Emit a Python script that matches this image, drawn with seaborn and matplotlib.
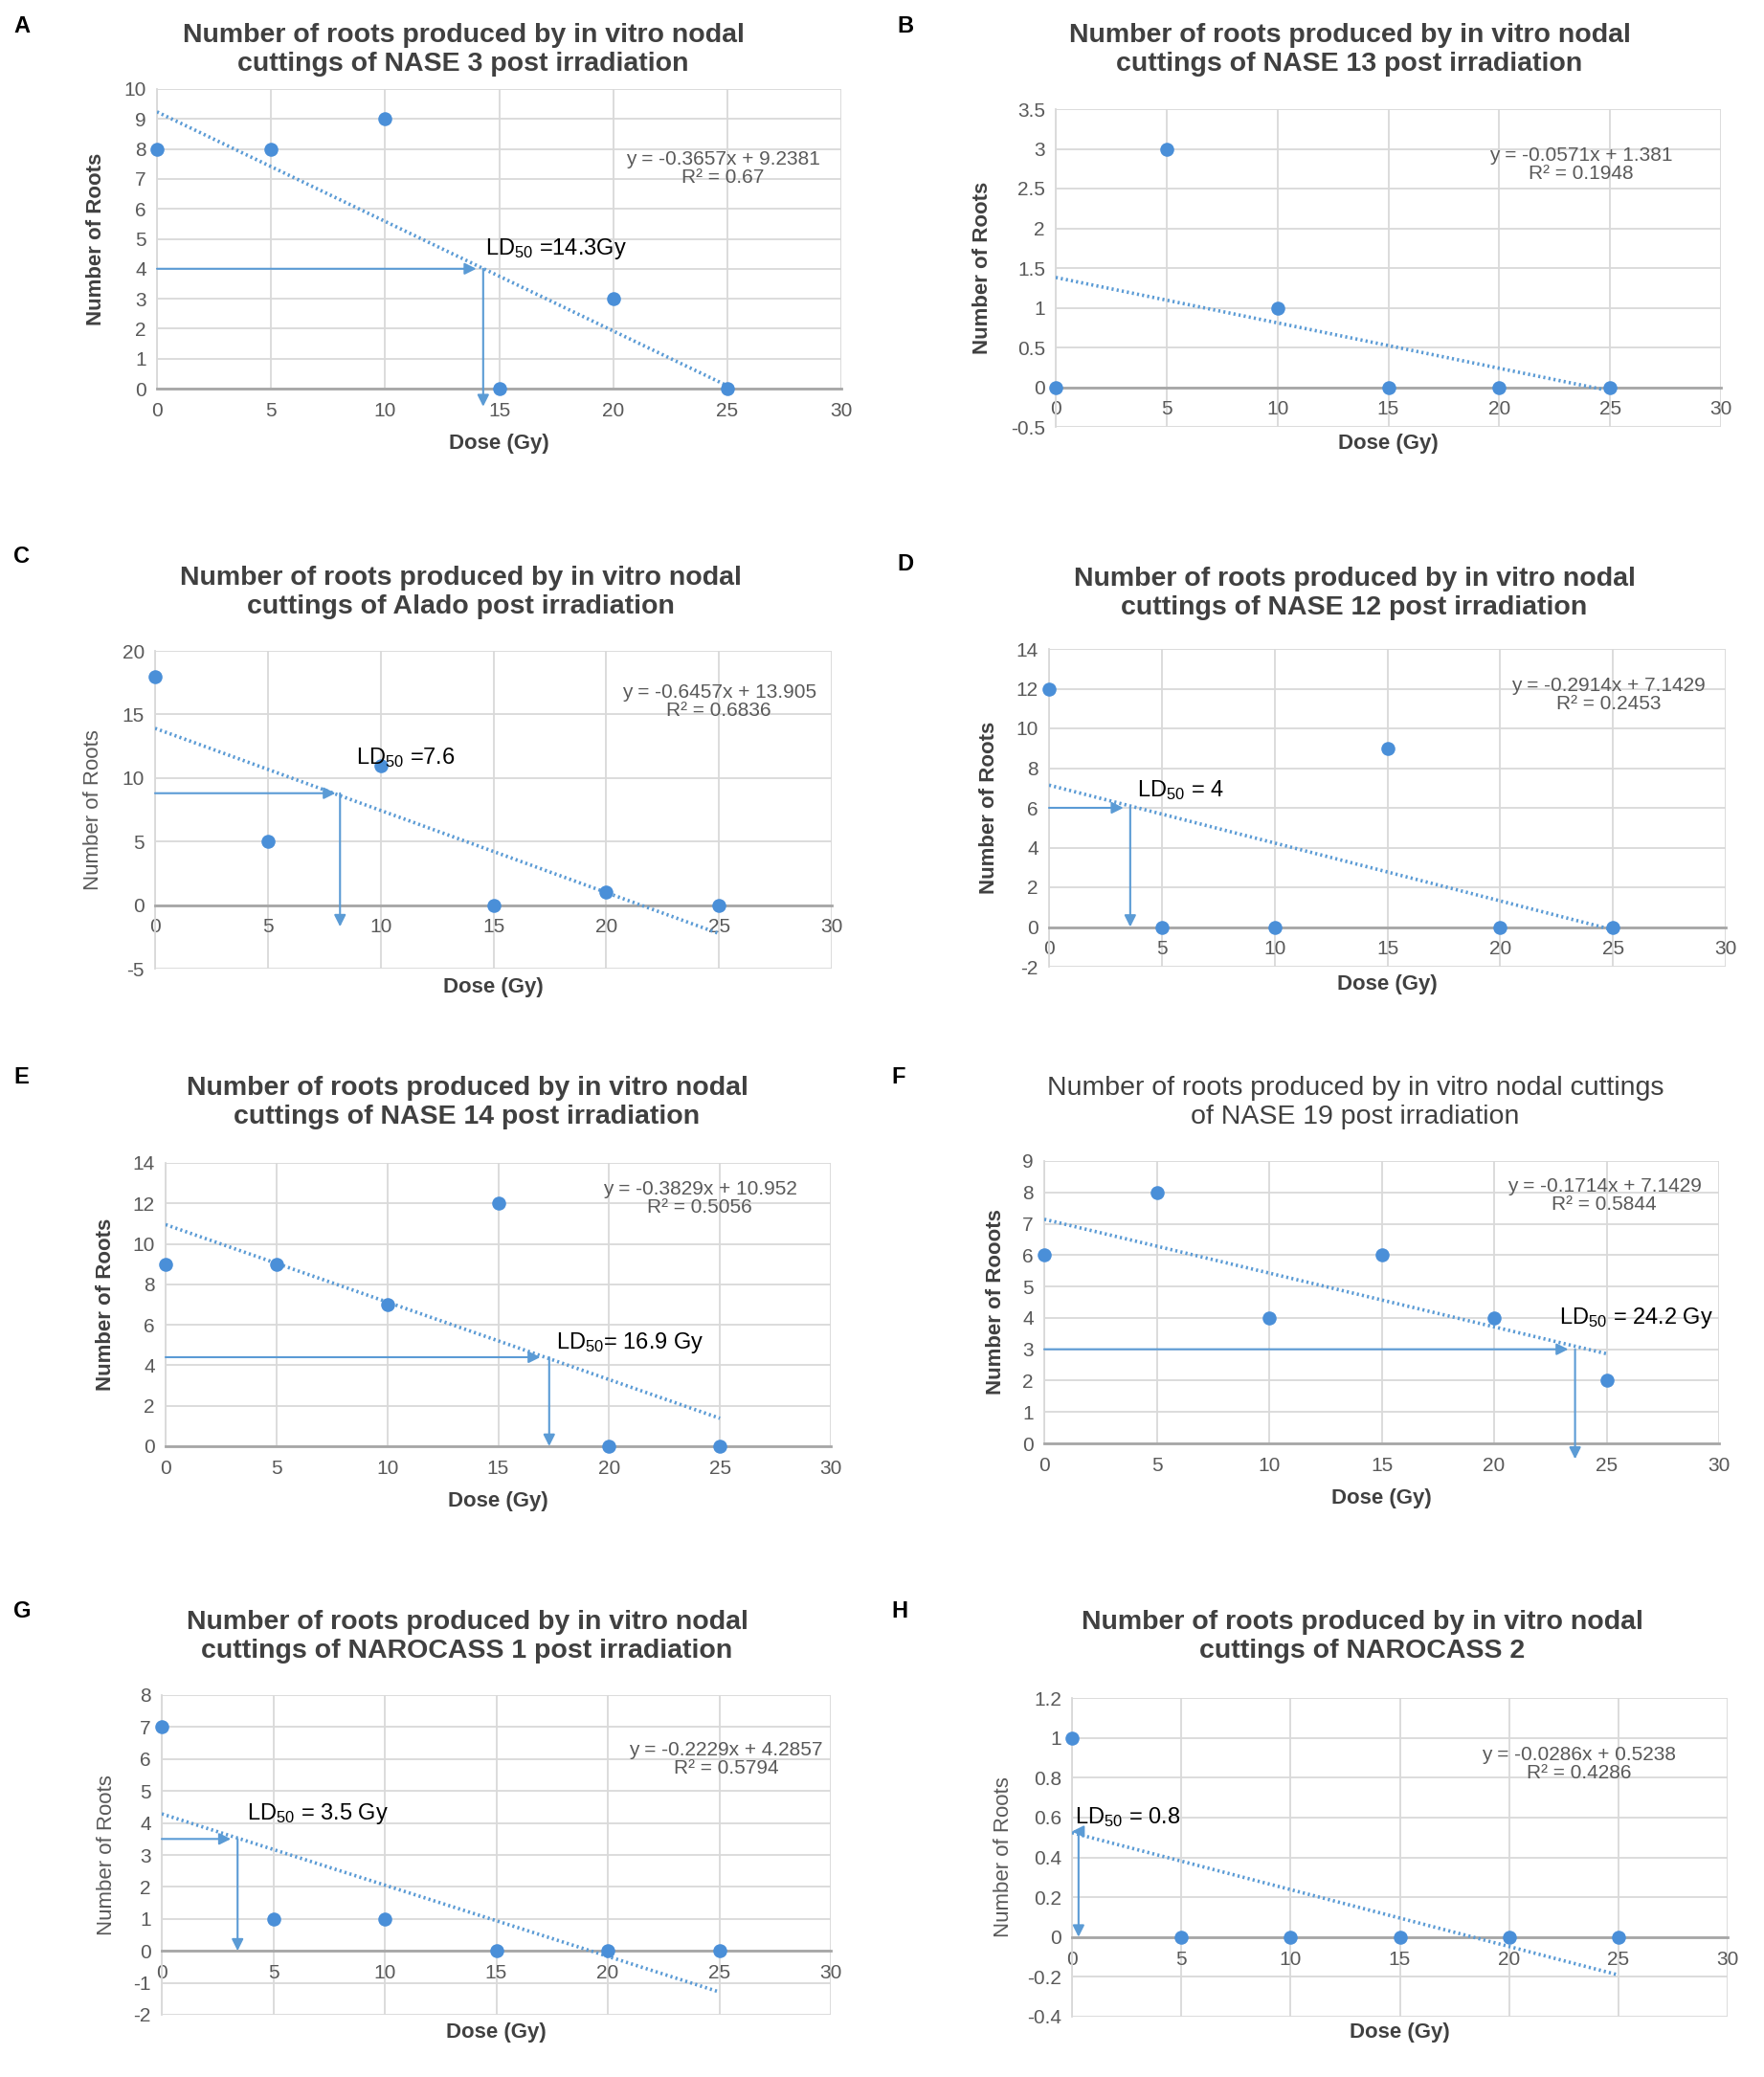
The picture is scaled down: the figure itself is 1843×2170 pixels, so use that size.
import numpy as np
import pandas as pd
import matplotlib
matplotlib.use('Agg')
import matplotlib.pyplot as plt
import seaborn as sns
from matplotlib.ticker import MultipleLocator, FuncFormatter

# dose levels (Gy), same for all eight genotypes
dose = [0, 5, 10, 15, 20, 25]

# number of roots per genotype
roots_nase3 = [8, 8, 9, 0, 3, 0]
roots_nase13 = [0, 3, 1, 0, 0, 0]
roots_alado = [18, 5, 11, 0, 1, 0]
roots_nase12 = [12, 0, 0, 9, 0, 0]
roots_nase14 = [9, 9, 7, 12, 0, 0]
roots_nase19 = [6, 8, 4, 6, 4, 2]
roots_narocass1 = [7, 1, 1, 0, 0, 0]
roots_narocass2 = [1, 0, 0, 0, 0, 0]

letters = ['A', 'B', 'C', 'D', 'E', 'F', 'G', 'H']
titles = [
    'Number of roots produced by in vitro nodal\ncuttings of NASE 3 post irradiation',
    'Number of roots produced by in vitro nodal\ncuttings of NASE 13 post irradiation',
    'Number of roots produced by in vitro nodal\ncuttings of Alado post irradiation',
    'Number of roots produced by in vitro nodal\ncuttings of NASE 12 post irradiation',
    'Number of roots produced by in vitro nodal\ncuttings of NASE 14 post irradiation',
    'Number of roots produced by in vitro nodal cuttings\nof NASE 19 post irradiation',
    'Number of roots produced by in vitro nodal\ncuttings of NAROCASS 1 post irradiation',
    'Number of roots produced by in vitro nodal\ncuttings of NAROCASS 2',
]
equations = [
    'y = -0.3657x + 9.2381\nR² = 0.67',
    'y = -0.0571x + 1.381\nR² = 0.1948',
    'y = -0.6457x + 13.905\nR² = 0.6836',
    'y = -0.2914x + 7.1429\nR² = 0.2453',
    'y = -0.3829x + 10.952\nR² = 0.5056',
    'y = -0.1714x + 7.1429\nR² = 0.5844',
    'y = -0.2229x + 4.2857\nR² = 0.5794',
    'y = -0.0286x + 0.5238\nR² = 0.4286',
]
ylabels = ['Number of Roots'] * 5 + ['Number of Rooots'] + ['Number of Roots'] * 2
ld50_labels = ['LD$_{50}$ =14.3Gy', None, 'LD$_{50}$ =7.6', 'LD$_{50}$ = 4',
               'LD$_{50}$= 16.9 Gy', 'LD$_{50}$ = 24.2 Gy', 'LD$_{50}$ = 3.5 Gy',
               'LD$_{50}$ = 0.8']
# y-axis ranges: (min, max, step)
y_ranges = [(0, 10, 1), (-0.5, 3.5, 0.5), (-5, 20, 5), (-2, 14, 2),
            (0, 14, 2), (0, 9, 1), (-2, 8, 1), (-0.4, 1.2, 0.2)]
# LD50 read-off arrows: (y level, horizontal start, horizontal end, vertical x, vertical end)
ld50_arrows = [(4, 0, 14.0, 14.3, -0.6), None, (8.8, 0, 8.0, 8.2, -1.7),
               (6, 0, 3.3, 3.6, 0), (4.4, 0, 16.9, 17.3, 0), (3, 0, 23.3, 23.6, -0.5),
               (3.5, 0, 3.1, 3.4, 0), (0.53, 0.35, 0.0, 0.3, 0)]
# annotation anchor points (data coords)
eq_pos = [(24.8, 7.35), (23.7, 2.8), (25.0, 16.0), (24.8, 11.7),
          (24.1, 12.25), (24.9, 7.9), (25.3, 6.0), (23.2, 0.87)]
ld_pos = [(14.4, 4.65), None, (8.9, 11.6), (3.9, 6.9), (17.6, 5.1),
          (22.9, 4.0), (3.8, 4.3), (0.15, 0.6)]

all_roots = [roots_nase3, roots_nase13, roots_alado, roots_nase12,
             roots_nase14, roots_nase19, roots_narocass1, roots_narocass2]

W, H = 1843, 2170
# plot areas in pixels: left, right, top, bottom
boxes = [(164, 879, 93, 406), (1103, 1798, 114, 446),
         (162, 869, 680, 1012), (1096, 1803, 678, 1010),
         (173, 868, 1215, 1511), (1091, 1796, 1213, 1508),
         (169, 868, 1771, 2105), (1120, 1805, 1774, 2107)]
title_xy = [(484, 52), (1410, 52), (481, 619), (1415, 620),
            (488, 1152), (1416, 1152), (488, 1710), (1423, 1710)]
letter_xy = [(14, 28), (937, 28), (14, 582), (937, 590),
             (14, 1125), (931, 1125), (14, 1683), (931, 1683)]
xlab_y = [-0.15, -0.02, -0.027, -0.024, -0.16, -0.16, -0.024, -0.018]
ylab_x = [-0.074, -0.095, -0.076, -0.074, -0.075, -0.057, -0.067, -0.089]
bold_ylabel = [True, True, False, True, True, True, False, False]
bold_title = [True, True, True, True, True, False, True, True]

blue = '#4a8fd8'
line_blue = '#5b9bd5'
grid_gray = '#d9d9d9'
text_gray = '#595959'

sns.set_theme(style='whitegrid')
plt.rcParams['font.family'] = ['Liberation Sans', 'DejaVu Sans']
plt.rcParams['mathtext.default'] = 'regular'

fig = plt.figure(figsize=(W / 100, H / 100), dpi=100)
fig.patch.set_facecolor('white')

for i in range(8):
    l, r, t, b = boxes[i]
    ax = fig.add_axes([l / W, 1 - b / H, (r - l) / W, (b - t) / H])
    df = pd.DataFrame({'Dose': dose, 'Roots': all_roots[i]})
    sns.regplot(data=df, x='Dose', y='Roots', ax=ax, ci=None, truncate=True,
                scatter_kws=dict(s=110, color=blue, alpha=1, linewidths=0,
                                 zorder=4, clip_on=False),
                line_kws=dict(color=line_blue, lw=2.6, ls=(0, (0.6, 0.9)),
                              zorder=3))
    ymin, ymax, ystep = y_ranges[i]
    ax.set_xlim(0, 30)
    ax.set_ylim(ymin, ymax)
    ax.xaxis.set_major_locator(MultipleLocator(5))
    ax.yaxis.set_major_locator(MultipleLocator(ystep))
    ax.yaxis.set_major_formatter(FuncFormatter(lambda v, p: f"{round(v, 2):g}"))
    ax.grid(True, color=grid_gray, lw=1.3)
    ax.set_facecolor('white')
    for s in ['top', 'right']:
        ax.spines[s].set_visible(False)
    ax.spines['left'].set_color(grid_gray)
    ax.spines['left'].set_linewidth(1.3)
    ax.spines['bottom'].set_position(('data', 0))
    ax.spines['bottom'].set_color('#a6a6a6')
    ax.spines['bottom'].set_linewidth(2)
    ax.tick_params(length=0, labelsize=15, colors=text_gray)
    ax.tick_params(axis='x', pad=10)
    ax.tick_params(axis='y', pad=8)

    ax.set_xlabel('Dose (Gy)', fontsize=16, fontweight='bold', color='#404040')
    ax.xaxis.set_label_coords(0.5, xlab_y[i])
    ax.set_ylabel(ylabels[i], fontsize=16,
                  fontweight='bold' if bold_ylabel[i] else 'normal',
                  color='#404040' if bold_ylabel[i] else text_gray)
    ax.yaxis.set_label_coords(ylab_x[i], 0.5)

    # trendline equation
    ex, ey = eq_pos[i]
    ax.text(ex, ey, equations[i], ha='center', va='center', fontsize=15,
            color=text_gray, linespacing=1.0)

    # LD50 read-off
    arr = ld50_arrows[i]
    if arr is not None:
        yl, hx0, hx1, vx, vy1 = arr
        akw = dict(arrowstyle='-|>', color=line_blue, lw=1.5, mutation_scale=18,
                   shrinkA=0, shrinkB=0)
        ax.annotate('', xy=(hx1, yl), xytext=(hx0, yl), arrowprops=akw,
                    annotation_clip=False)
        ax.annotate('', xy=(vx, vy1), xytext=(vx, yl), arrowprops=akw,
                    annotation_clip=False)
    if ld_pos[i] is not None:
        lx, ly = ld_pos[i]
        ax.text(lx, ly, ld50_labels[i], ha='left', va='center', fontsize=17,
                color='black', zorder=5)

    tx, ty = title_xy[i]
    fig.text(tx / W, 1 - ty / H, titles[i], ha='center', va='center',
             fontsize=20.5, fontweight='bold' if bold_title[i] else 'normal',
             color='#404040', linespacing=1.2)
    lx_, ly_ = letter_xy[i]
    fig.text(lx_ / W, 1 - ly_ / H, letters[i], ha='left', va='center',
             fontsize=17, fontweight='bold', color='black')

fig.savefig('out.png', dpi=100, facecolor='white')
